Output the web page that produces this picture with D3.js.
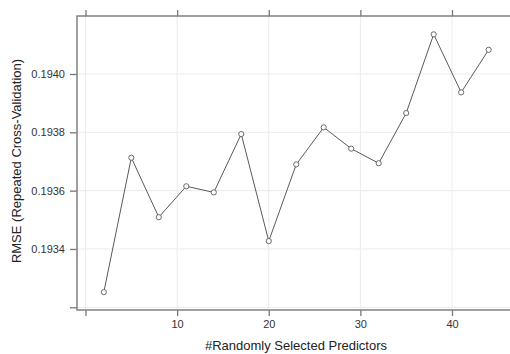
<!DOCTYPE html>
<html>
<head>
<meta charset="utf-8">
<script src="https://cdn.jsdelivr.net/npm/d3@7"></script>
<style>
  body { margin: 0; background: #fff; }
  svg { display: block; font-family: "Liberation Sans", Arial, sans-serif; }
</style>
</head>
<body>
<svg id="chart"></svg>
<script>
// Data
const predictors = [2, 5, 8, 11, 14, 17, 20, 23, 26, 29, 32, 35, 38, 41, 44];
const rmse = [0.193252, 0.193713, 0.193509, 0.193615, 0.193594, 0.193794, 0.193427,
  0.19369, 0.193817, 0.193744, 0.193694, 0.193866, 0.194136, 0.193937, 0.194083];
const xTicks = [0, 10, 20, 30, 40];
const xLabels = ['', '10', '20', '30', '40'];
const yTicks = [0.1932, 0.1934, 0.1936, 0.1938, 0.1940];
const yLabels = ['', '0.1934', '0.1936', '0.1938', '0.1940'];

// Chart dimensions
const width = 510;
const height = 354;
const panel = { left: 77, top: 16, right: 514, bottom: 310 };

const svg = d3.select('#chart')
  .attr('width', width)
  .attr('height', height);

// Scales
const xScale = d3.scaleLinear()
  .domain([0, 40])
  .range([85.5, 452]);

const yScale = d3.scaleLinear()
  .domain([0.1932, 0.1940])
  .range([307.3, 74]);

// Grid lines
svg.append('g')
  .selectAll('line')
  .data(xTicks)
  .enter().append('line')
  .attr('x1', d => xScale(d)).attr('x2', d => xScale(d))
  .attr('y1', panel.top).attr('y2', panel.bottom)
  .attr('stroke', '#ebebeb');

svg.append('g')
  .selectAll('line')
  .data(yTicks)
  .enter().append('line')
  .attr('x1', panel.left).attr('x2', panel.right)
  .attr('y1', d => yScale(d)).attr('y2', d => yScale(d))
  .attr('stroke', '#ebebeb');

// Bottom axis
const xAxis = d3.axisBottom(xScale)
  .tickValues(xTicks)
  .tickSize(6)
  .tickPadding(4)
  .tickFormat((d, i) => xLabels[i]);
const gx = svg.append('g')
  .attr('transform', `translate(0, ${panel.bottom})`)
  .call(xAxis);
gx.select('.domain').remove();

// Top axis (ticks only)
const gxTop = svg.append('g')
  .attr('transform', `translate(0, ${panel.top})`)
  .call(d3.axisTop(xScale).tickValues(xTicks).tickSize(6).tickFormat(''));
gxTop.select('.domain').remove();

// Left axis
const yAxis = d3.axisLeft(yScale)
  .tickValues(yTicks)
  .tickSize(7)
  .tickPadding(5)
  .tickFormat((d, i) => yLabels[i]);
const gy = svg.append('g')
  .attr('transform', `translate(${panel.left}, 0)`)
  .call(yAxis);
gy.select('.domain').remove();

svg.selectAll('.tick line').attr('stroke', '#777').attr('stroke-width', 1.3);
svg.selectAll('.tick text').attr('fill', '#333').style('font-size', '11px');

// Panel border (right side falls outside the picture)
svg.append('path')
  .attr('d', `M${panel.right},${panel.top}H${panel.left}V${panel.bottom}H${panel.right}`)
  .attr('fill', 'none')
  .attr('stroke', '#808080')
  .attr('stroke-width', 1.5);

// Line
const line = d3.line()
  .x((d, i) => xScale(predictors[i]))
  .y(d => yScale(d));
svg.append('path')
  .datum(rmse)
  .attr('d', line)
  .attr('fill', 'none')
  .attr('stroke', '#5a5a5a')
  .attr('stroke-width', 1);

// Points
svg.selectAll('.pt')
  .data(rmse)
  .enter().append('circle')
  .attr('class', 'pt')
  .attr('cx', (d, i) => xScale(predictors[i]))
  .attr('cy', d => yScale(d))
  .attr('r', 2.6)
  .attr('fill', '#fff')
  .attr('stroke', '#5a5a5a')
  .attr('stroke-width', 0.9);

// Axis titles
svg.append('text')
  .attr('x', 296)
  .attr('y', 350)
  .attr('text-anchor', 'middle')
  .attr('fill', '#222')
  .style('font-size', '13px')
  .text('#Randomly Selected Predictors');

svg.append('text')
  .attr('transform', 'translate(21, 161) rotate(-90)')
  .attr('text-anchor', 'middle')
  .attr('fill', '#222')
  .style('font-size', '13px')
  .text('RMSE (Repeated Cross-Validation)');
</script>
</body>
</html>
